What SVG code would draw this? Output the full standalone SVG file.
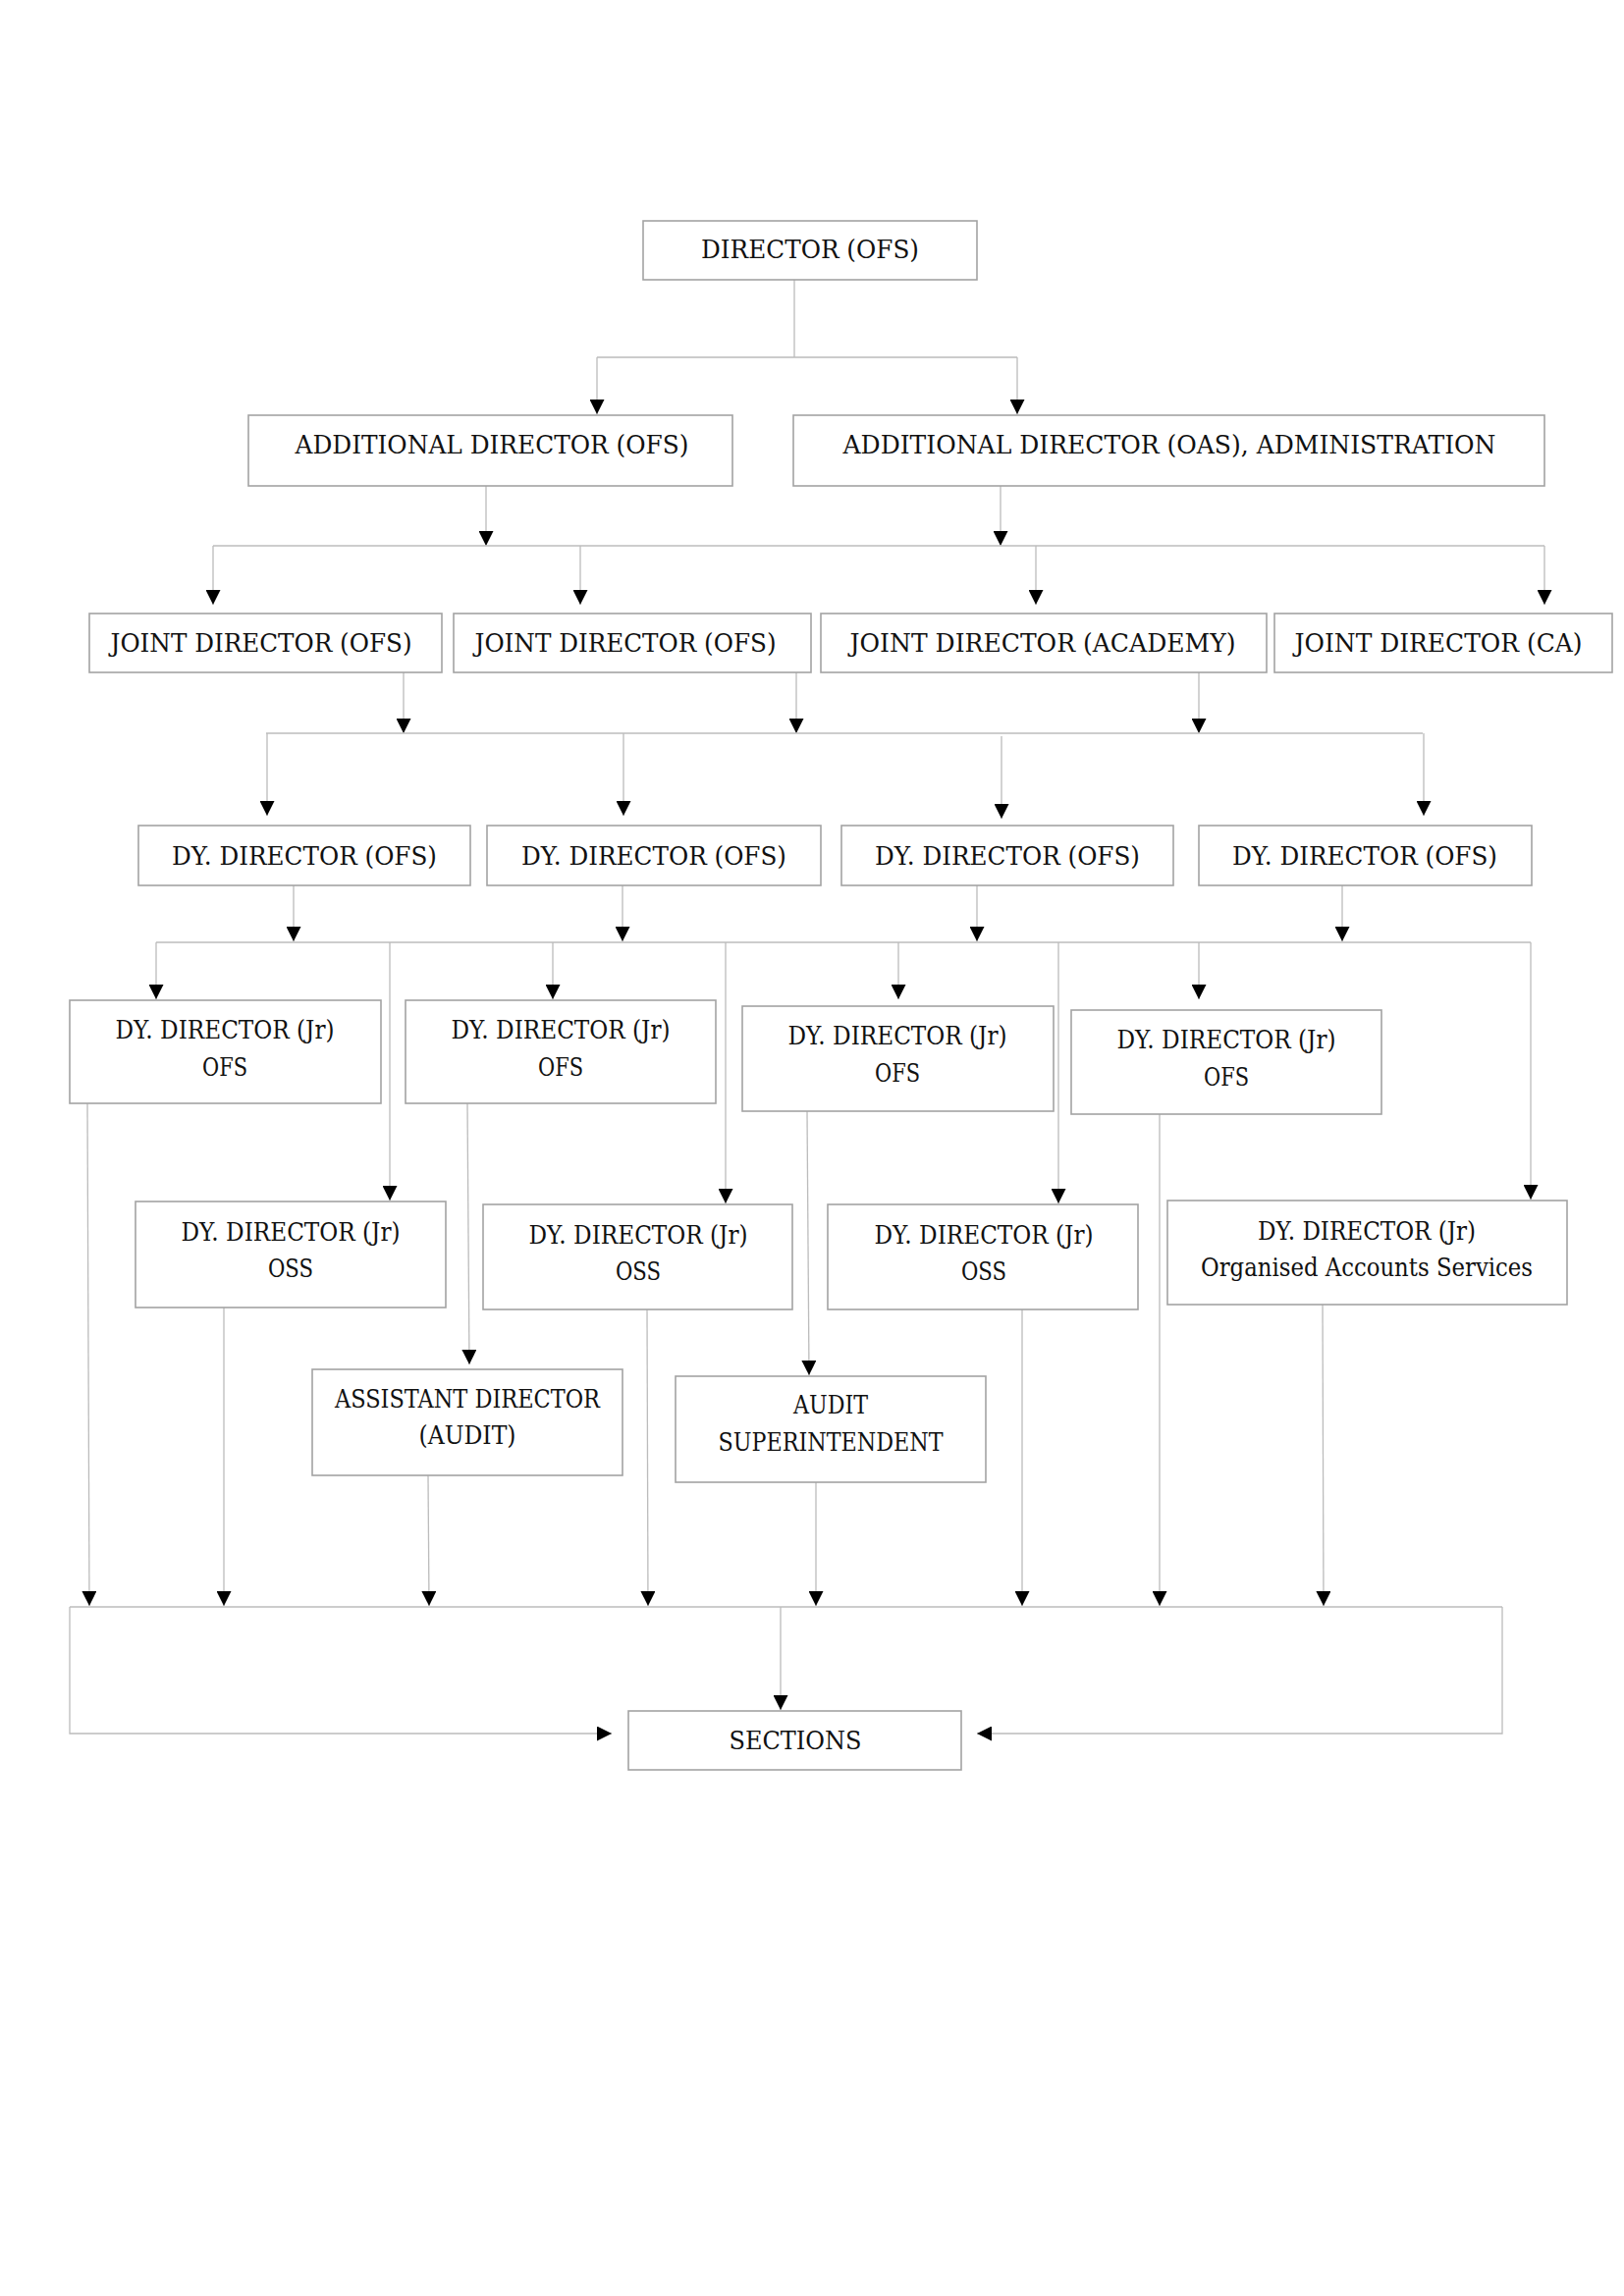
<svg xmlns="http://www.w3.org/2000/svg" width="1654" height="2339" viewBox="0 0 1654 2339">
<defs>
<marker id="ah" markerUnits="userSpaceOnUse" markerWidth="15" markerHeight="15" refX="15" refY="7.5" orient="auto" viewBox="0 0 15 15">
<path d="M0,0 L15,7.5 L0,15 Z" fill="#000"/>
</marker>
<style>
.box{fill:#fff;stroke:#a3a3a3;stroke-width:1.6}
.t{font-family:"DejaVu Serif","Liberation Serif",serif;font-size:26px;fill:#111;text-anchor:middle}
.c{fill:none;stroke:#bcbcbc;stroke-width:1.3}
.a{fill:none;stroke:#bcbcbc;stroke-width:1.3;marker-end:url(#ah)}
</style>
</defs>
<rect width="1654" height="2339" fill="#fff"/>

<g id="connectors">
<!-- Director to additional directors -->
<path class="c" d="M809,285 V364 M608,364 H1036"/>
<path class="a" d="M608,364 V422"/>
<path class="a" d="M1036,364 V422"/>
<!-- Additional directors to joint directors -->
<path class="a" d="M495,495 V556"/>
<path class="a" d="M1019,495 V556"/>
<path class="c" d="M217,556 H1573"/>
<path class="a" d="M217,556 V616"/>
<path class="a" d="M591,556 V616"/>
<path class="a" d="M1055,556 V616"/>
<path class="a" d="M1573,556 V616"/>
<!-- Joint directors to deputy directors -->
<path class="a" d="M411,685 V747"/>
<path class="a" d="M811,685 V747"/>
<path class="a" d="M1221,685 V747"/>
<path class="c" d="M271,747 H1449"/>
<path class="a" d="M272,747 V831"/>
<path class="a" d="M635,747 V831"/>
<path class="a" d="M1020,750 V834"/>
<path class="a" d="M1450,747 V831"/>
<!-- Deputy directors to Jr -->
<path class="a" d="M299,902 V959"/>
<path class="a" d="M634,902 V959"/>
<path class="a" d="M995,902 V959"/>
<path class="a" d="M1367,902 V959"/>
<path class="c" d="M159,960 H1559"/>
<path class="a" d="M159,960 V1018"/>
<path class="a" d="M563,960 V1018"/>
<path class="a" d="M915,960 V1018"/>
<path class="a" d="M1221,960 V1018"/>
<path class="a" d="M397,960 V1223"/>
<path class="a" d="M739,960 V1226"/>
<path class="a" d="M1078,960 V1226"/>
<path class="a" d="M1559,960 V1222"/>
<!-- Jr OFS to audit -->
<path class="a" d="M476,1124 L478,1390"/>
<path class="a" d="M822,1132 L824,1401"/>
<!-- to sections bar -->
<path class="a" d="M89,1124 L91,1636"/>
<path class="a" d="M228,1332 V1636"/>
<path class="a" d="M436,1503 L437,1636"/>
<path class="a" d="M659,1334 L660,1636"/>
<path class="a" d="M831,1510 V1636"/>
<path class="a" d="M1041,1334 V1636"/>
<path class="a" d="M1181,1135 V1636"/>
<path class="a" d="M1347,1329 L1348,1636"/>
<path class="c" d="M71,1637 H1530"/>
<path class="a" d="M71,1637 V1766 H623"/>
<path class="a" d="M1530,1637 V1766 H995"/>
<path class="a" d="M795,1637 V1742"/>
</g>

<g id="n-director">
<rect class="box" x="655" y="225" width="340" height="60"/>
<text class="t" x="825" y="263" textLength="222" lengthAdjust="spacingAndGlyphs">DIRECTOR (OFS)</text>
</g>

<g id="n-add-ofs">
<rect class="box" x="253" y="423" width="493" height="72"/>
<text class="t" x="501" y="462" textLength="401" lengthAdjust="spacingAndGlyphs">ADDITIONAL DIRECTOR (OFS)</text>
</g>
<g id="n-add-oas">
<rect class="box" x="808" y="423" width="765" height="72"/>
<text class="t" x="1191" y="462" textLength="665" lengthAdjust="spacingAndGlyphs">ADDITIONAL DIRECTOR (OAS), ADMINISTRATION</text>
</g>

<g id="n-jd1">
<rect class="box" x="91" y="625" width="359" height="60"/>
<text class="t" x="266" y="664" textLength="307" lengthAdjust="spacingAndGlyphs">JOINT DIRECTOR (OFS)</text>
</g>
<g id="n-jd2">
<rect class="box" x="462" y="625" width="364" height="60"/>
<text class="t" x="637" y="664" textLength="307" lengthAdjust="spacingAndGlyphs">JOINT DIRECTOR (OFS)</text>
</g>
<g id="n-jd3">
<rect class="box" x="836" y="625" width="454" height="60"/>
<text class="t" x="1062" y="664" textLength="393" lengthAdjust="spacingAndGlyphs">JOINT DIRECTOR (ACADEMY)</text>
</g>
<g id="n-jd4">
<rect class="box" x="1298" y="625" width="344" height="60"/>
<text class="t" x="1465" y="664" textLength="293" lengthAdjust="spacingAndGlyphs">JOINT DIRECTOR (CA)</text>
</g>

<g id="n-dd1">
<rect class="box" x="141" y="841" width="338" height="61"/>
<text class="t" x="310" y="881" textLength="270" lengthAdjust="spacingAndGlyphs">DY. DIRECTOR (OFS)</text>
</g>
<g id="n-dd2">
<rect class="box" x="496" y="841" width="340" height="61"/>
<text class="t" x="666" y="881" textLength="270" lengthAdjust="spacingAndGlyphs">DY. DIRECTOR (OFS)</text>
</g>
<g id="n-dd3">
<rect class="box" x="857" y="841" width="338" height="61"/>
<text class="t" x="1026" y="881" textLength="270" lengthAdjust="spacingAndGlyphs">DY. DIRECTOR (OFS)</text>
</g>
<g id="n-dd4">
<rect class="box" x="1221" y="841" width="339" height="61"/>
<text class="t" x="1390" y="881" textLength="270" lengthAdjust="spacingAndGlyphs">DY. DIRECTOR (OFS)</text>
</g>

<g id="n-jr-ofs1">
<rect class="box" x="71" y="1019" width="317" height="105"/>
<text class="t" x="229" y="1058" textLength="223" lengthAdjust="spacingAndGlyphs">DY. DIRECTOR (Jr)</text>
<text class="t" x="229" y="1096" textLength="46" lengthAdjust="spacingAndGlyphs">OFS</text>
</g>
<g id="n-jr-ofs2">
<rect class="box" x="413" y="1019" width="316" height="105"/>
<text class="t" x="571" y="1058" textLength="223" lengthAdjust="spacingAndGlyphs">DY. DIRECTOR (Jr)</text>
<text class="t" x="571" y="1096" textLength="46" lengthAdjust="spacingAndGlyphs">OFS</text>
</g>
<g id="n-jr-ofs3">
<rect class="box" x="756" y="1025" width="317" height="107"/>
<text class="t" x="914" y="1064" textLength="223" lengthAdjust="spacingAndGlyphs">DY. DIRECTOR (Jr)</text>
<text class="t" x="914" y="1102" textLength="46" lengthAdjust="spacingAndGlyphs">OFS</text>
</g>
<g id="n-jr-ofs4">
<rect class="box" x="1091" y="1029" width="316" height="106"/>
<text class="t" x="1249" y="1068" textLength="223" lengthAdjust="spacingAndGlyphs">DY. DIRECTOR (Jr)</text>
<text class="t" x="1249" y="1106" textLength="46" lengthAdjust="spacingAndGlyphs">OFS</text>
</g>

<g id="n-jr-oss1">
<rect class="box" x="138" y="1224" width="316" height="108"/>
<text class="t" x="296" y="1264" textLength="223" lengthAdjust="spacingAndGlyphs">DY. DIRECTOR (Jr)</text>
<text class="t" x="296" y="1301" textLength="46" lengthAdjust="spacingAndGlyphs">OSS</text>
</g>
<g id="n-jr-oss2">
<rect class="box" x="492" y="1227" width="315" height="107"/>
<text class="t" x="650" y="1267" textLength="223" lengthAdjust="spacingAndGlyphs">DY. DIRECTOR (Jr)</text>
<text class="t" x="650" y="1304" textLength="46" lengthAdjust="spacingAndGlyphs">OSS</text>
</g>
<g id="n-jr-oss3">
<rect class="box" x="843" y="1227" width="316" height="107"/>
<text class="t" x="1002" y="1267" textLength="223" lengthAdjust="spacingAndGlyphs">DY. DIRECTOR (Jr)</text>
<text class="t" x="1002" y="1304" textLength="46" lengthAdjust="spacingAndGlyphs">OSS</text>
</g>
<g id="n-jr-oas">
<rect class="box" x="1189" y="1223" width="407" height="106"/>
<text class="t" x="1392" y="1263" textLength="222" lengthAdjust="spacingAndGlyphs">DY. DIRECTOR (Jr)</text>
<text class="t" x="1392" y="1300" textLength="338" lengthAdjust="spacingAndGlyphs">Organised Accounts Services</text>
</g>

<g id="n-asst-audit">
<rect class="box" x="318" y="1395" width="316" height="108"/>
<text class="t" x="476" y="1434" textLength="270" lengthAdjust="spacingAndGlyphs">ASSISTANT DIRECTOR</text>
<text class="t" x="476" y="1471" textLength="99" lengthAdjust="spacingAndGlyphs">(AUDIT)</text>
</g>
<g id="n-audit-sup">
<rect class="box" x="688" y="1402" width="316" height="108"/>
<text class="t" x="846" y="1440" textLength="76" lengthAdjust="spacingAndGlyphs">AUDIT</text>
<text class="t" x="846" y="1478" textLength="229" lengthAdjust="spacingAndGlyphs">SUPERINTENDENT</text>
</g>

<g id="n-sections">
<rect class="box" x="640" y="1743" width="339" height="60"/>
<text class="t" x="810" y="1782" textLength="135" lengthAdjust="spacingAndGlyphs">SECTIONS</text>
</g>
</svg>
